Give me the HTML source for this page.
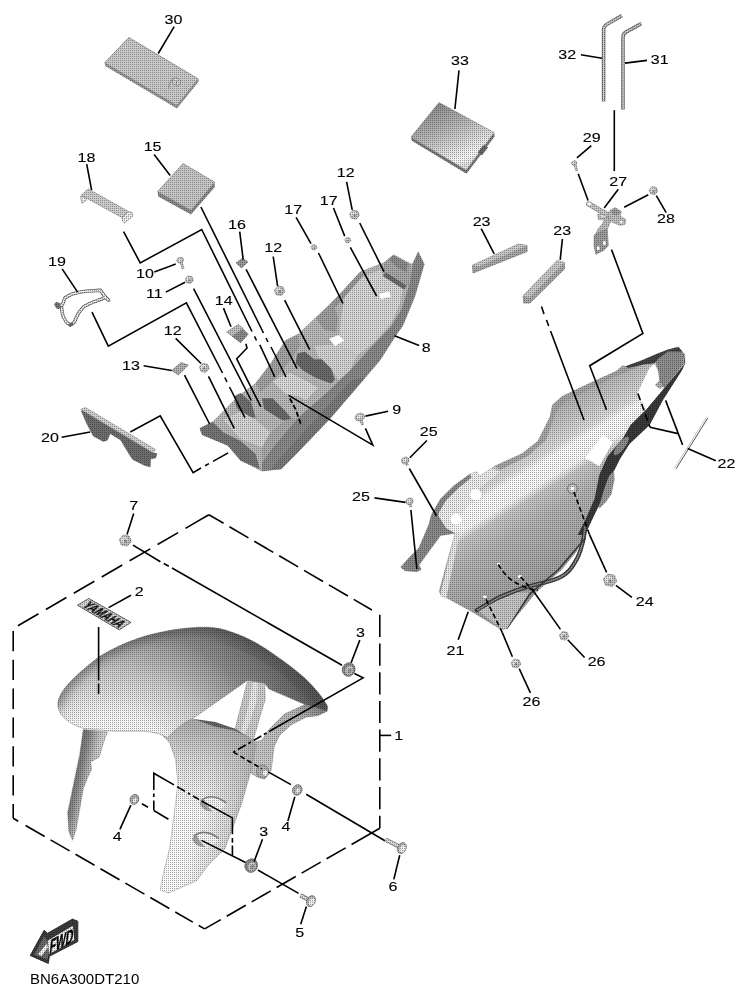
<!DOCTYPE html>
<html><head><meta charset="utf-8"><title>Diagram</title>
<style>
html,body{margin:0;padding:0;background:#fff;}
body{width:748px;height:997px;overflow:hidden;}
svg{display:block;}
text{font-family:"Liberation Sans",sans-serif;fill:#000;}
</style></head><body>
<svg width="748" height="997" viewBox="0 0 748 997">
<defs>

<filter id="dith" filterUnits="userSpaceOnUse" primitiveUnits="userSpaceOnUse" x="0" y="0" width="748" height="997" color-interpolation-filters="sRGB">
  <feFlood flood-color="#000" flood-opacity="0.33" x="0" y="0" width="1" height="1" result="dot"/>
  <feMerge x="0" y="0" width="2" height="2" result="tile"><feMergeNode in="dot"/></feMerge>
  <feTile in="tile" x="0" y="0" width="748" height="997" result="tiles"/>
  <feComposite in="tiles" in2="SourceAlpha" operator="in" result="dots"/>
  <feMerge><feMergeNode in="SourceGraphic"/><feMergeNode in="dots"/></feMerge>
</filter>
<radialGradient id="gFenderTop" gradientUnits="userSpaceOnUse" cx="110" cy="800" r="230">
  <stop offset="0.36" stop-color="#f6f6f6"/><stop offset="0.45" stop-color="#e2e2e2"/><stop offset="0.56" stop-color="#cacaca"/><stop offset="0.62" stop-color="#b8b8b8"/><stop offset="0.70" stop-color="#a2a2a2"/><stop offset="0.76" stop-color="#8e8e8e"/><stop offset="0.85" stop-color="#7c7c7c"/><stop offset="0.92" stop-color="#6e6e6e"/><stop offset="1" stop-color="#5a5a5a"/>
</radialGradient>
<linearGradient id="gLegTop" gradientUnits="userSpaceOnUse" x1="200" y1="725" x2="190" y2="810">
  <stop offset="0" stop-color="#999" stop-opacity="0.75"/><stop offset="0.45" stop-color="#aaa" stop-opacity="0.4"/><stop offset="1" stop-color="#bbb" stop-opacity="0"/>
</linearGradient>
<linearGradient id="gFenderLeg" gradientUnits="userSpaceOnUse" x1="165" y1="790" x2="250" y2="810">
  <stop offset="0" stop-color="#ffffff"/><stop offset="0.45" stop-color="#f6f6f6"/><stop offset="0.8" stop-color="#d8d8d8"/><stop offset="1" stop-color="#b4b4b4"/>
</linearGradient>
<linearGradient id="gCowl" gradientUnits="userSpaceOnUse" x1="513.6" y1="432.6" x2="586.5" y2="552">
  <stop offset="0" stop-color="#b2b2b2"/><stop offset="0.12" stop-color="#c6c6c6"/><stop offset="0.24" stop-color="#dcdcdc"/><stop offset="0.29" stop-color="#fafafa"/><stop offset="0.41" stop-color="#f6f6f6"/><stop offset="0.47" stop-color="#c8c8c8"/><stop offset="0.62" stop-color="#b4b4b4"/><stop offset="1" stop-color="#a0a0a0"/>
</linearGradient>
<linearGradient id="gPad33" gradientUnits="userSpaceOnUse" x1="436" y1="106" x2="462" y2="166">
  <stop offset="0" stop-color="#8e8e8e"/><stop offset="0.4" stop-color="#b8b8b8"/><stop offset="0.7" stop-color="#dcdcdc"/><stop offset="0.9" stop-color="#f6f6f6"/><stop offset="1" stop-color="#e0e0e0"/>
</linearGradient>
<linearGradient id="gArm" gradientUnits="userSpaceOnUse" x1="325" y1="708" x2="262" y2="765">
  <stop offset="0" stop-color="#7e7e7e"/><stop offset="0.3" stop-color="#b4b4b4"/><stop offset="1" stop-color="#c8c8c8"/>
</linearGradient>
<filter id="blur5" x="-20%" y="-20%" width="140%" height="140%"><feGaussianBlur stdDeviation="5"/></filter>
<clipPath id="arcClip"><path d="M58,701.8 C60,690 75,675 100.2,656.1 C125,641 150,633.5 174.7,629.6 C190,627.3 200,627 208.1,627.2 C222,627.5 240,634 256.2,642.9 C275,654 292,667 304.4,677.7 C314,687 323.5,698 327.8,706.8 L327.1,711.2 L305,704.6 L269,689.1 L264.6,683.2 L247.6,680.3 L220.2,699.4 L192.5,718.7 C185,722 176,728 167.5,737.9 C160,733 150,731.5 141.1,731.2 L112.2,731.2 L83.3,728.3 C75,726 66,721 60.5,713.8 C58,709 57.5,705 58,701.8Z"/></clipPath>
<linearGradient id="gRearLeg" gradientUnits="userSpaceOnUse" x1="66" y1="790" x2="100" y2="798">
  <stop offset="0" stop-color="#666"/><stop offset="0.3" stop-color="#8a8a8a"/><stop offset="0.55" stop-color="#c0c0c0"/><stop offset="1" stop-color="#f0f0f0"/>
</linearGradient>
<linearGradient id="gRim" gradientUnits="userSpaceOnUse" x1="262" y1="690" x2="290" y2="655">
  <stop offset="0" stop-color="#555" stop-opacity="0"/><stop offset="1" stop-color="#444" stop-opacity="0.45"/>
</linearGradient>

</defs>
<rect width="748" height="997" fill="#fff"/>
<g filter="url(#dith)">
<path d="M128.8,37.4 L104.7,62.8 L105.2,66.0 L176.9,108.6 L198.8,81.5 L198.3,78.9Z" fill="#9a9a9a" />
<path d="M128.8,37.4 L104.7,62.8 L176.9,105.6 L198.3,78.9Z" fill="#c9c9c9" stroke="#888" stroke-width="0.6" />
<ellipse cx="176.5" cy="81.8" rx="4.2" ry="3.6" fill="#d8d8d8" stroke="#8a8a8a" stroke-width="0.7" transform="rotate(30 176.5 81.8)"/>
<path d="M168.5,88.5 Q168.5,82 174,77.5" fill="none" stroke="#8a8a8a" stroke-width="0.8"/>
<path d="M174.8,80.2 L176.5,82 L178.6,80.6 M176.5,82 L176.3,84.2" fill="none" stroke="#777" stroke-width="0.7"/>
<path d="M157.6,191.5 L158.2,196.5 L191.0,214.5 L214.8,187.0 L214.5,182.1 L191.0,210.2Z" fill="#8a8a8a" />
<path d="M183.0,163.4 L157.6,191.5 L191.0,210.2 L214.5,182.1Z" fill="#c6c6c6" stroke="#888" stroke-width="0.6" />
<path d="M411.0,137.1 L411.8,140.8 L466.5,173.8 L494.6,136.4 L494.1,132.6 L466.2,170.1Z" fill="#7c7c7c" />
<path d="M439.0,102.5 L411.0,137.1 L466.2,170.1 L494.1,132.6Z" fill="url(#gPad33)" stroke="#8a8a8a" stroke-width="0.6" />
<path d="M483.2,145.0 L488.2,147.2 L482.0,155.2 L477.6,152.4Z" fill="#6a6a6a" />
<path d="M81.2,195.3 L88.2,188.9 L128.3,211.4 L122.4,217.8Z" fill="#cdcdcd" stroke="#8a8a8a" stroke-width="0.6" />
<path d="M80.7,196.3 L81.8,203.3 L86.0,200.7 L86.0,197.5Z" fill="#f0f0f0" stroke="#8a8a8a" stroke-width="0.7" />
<path d="M122.4,217.8 L128.3,211.4 L132.0,212.4 L132.6,216.2 L124.5,223.1 L122.4,221.0Z" fill="#f2f2f2" stroke="#8a8a8a" stroke-width="0.7" />
<path d="M124,219.5 L130.5,213.5" stroke="#aaa" stroke-width="0.6" fill="none"/>
<path d="M472.5,265.2 L518.5,244.0 L527.0,245.5 L527.2,251.5 L473.0,273.0 L472.5,265.2Z" fill="#a8a8a8" stroke="#777" stroke-width="0.6" />
<path d="M472.5,265.2 L518.5,244.0 L527.0,245.5 L479.0,266.5Z" fill="#c8c8c8" />
<path d="M557.0,260.6 L564.3,262.5 L564.5,269.0 L530.0,303.1 L523.7,303.1 L523.1,295.8Z" fill="#a8a8a8" stroke="#777" stroke-width="0.6" />
<path d="M557.0,260.6 L564.3,262.5 L529.5,297.5 L523.1,295.8Z" fill="#c8c8c8" />
<path d="M603.6,101.6 L603.6,30 Q603.6,26.2 607,24.3 L621.8,15.6" fill="none" stroke="#777" stroke-width="3.6"/>
<path d="M603.6,101.6 L603.6,30 Q603.6,26.2 607,24.3 L621.8,15.6" fill="none" stroke="#cfcfcf" stroke-width="1.6"/>
<path d="M622.9,109.6 L622.9,37.5 Q622.9,33.8 626.3,31.9 L641.3,23.6" fill="none" stroke="#777" stroke-width="3.6"/>
<path d="M622.9,109.6 L622.9,37.5 Q622.9,33.8 626.3,31.9 L641.3,23.6" fill="none" stroke="#cfcfcf" stroke-width="1.6"/>
<path d="M418.2,252.0 L424.2,264.1 L414.9,296.1 L402.8,325.6 L396.1,334.9 L380.1,360.0 L364.8,378.0 L331.1,417.3 L298.3,451.8 L281.2,468.9 L262.0,471.0 L240.6,460.4 L227.8,445.4 L202.1,434.7 L199.9,428.3 L212.8,421.9 L238.4,396.2 L255.6,383.4 L270.5,364.1 L285.5,340.6 L298.3,334.2 L330.0,304.2 L343.7,290.1 L360.1,272.1 L384.1,262.7 L393.5,254.7 L410.9,264.1 L412.9,263.4Z" fill="#bababa" stroke="#888" stroke-width="0.5" />
<path d="M418.2,252.0 L424.2,264.1 L414.9,296.1 L402.8,325.6 L396.1,334.9 L380.1,360.0 L364.8,378.0 L331.1,417.3 L298.3,451.8 L281.2,468.9 L262.0,471.0 L262.0,462.5 L272.7,447.5 L298.3,417.6 L330.0,389.8 L349.8,370.5 L372.3,346.1 L390.8,326.9 L401.5,309.5 L409.5,284.1 L412.9,263.4Z" fill="#8a8a8a" />
<path d="M364.8,378.0 L331.1,417.3 L298.3,451.8 L281.2,468.9 L270.0,470.0 L290.0,447.0 L322.0,412.0 L352.0,380.0Z" fill="#7c7c7c" />
<path d="M345.0,296.0 L362.0,277.0 L380.0,270.0 L384.0,276.0 L403.0,289.0 L400.0,304.0 L390.8,324.0 L372.3,344.0 L357.3,355.5 L338.6,344.3 L341.0,318.0Z" fill="#d6d6d6" />
<path d="M330.0,304.2 L343.7,290.1 L360.1,272.1 L364.0,275.0 L348.0,293.0 L335.0,308.0Z" fill="#9c9c9c" />
<path d="M316.0,318.0 L330.0,304.2 L335.0,308.0 L338.0,318.0 L336.0,332.0 L324.0,330.0Z" fill="#a0a0a0" />
<path d="M384.1,262.7 L393.5,254.7 L410.9,264.1 L409.5,284.1 L404.2,289.5 L382.8,276.1Z" fill="#a8a8a8" />
<path d="M389.0,259.5 L393.5,255.5 L408.0,263.5 L406.5,272.0 L398.0,268.0Z" fill="#8c8c8c" />
<path d="M382.8,276.1 L386.0,272.5 L406.5,285.5 L404.2,289.5Z" fill="#6e6e6e" />
<path d="M314.3,346.1 L338.6,344.3 L357.3,355.5 L349.8,370.5 L338.6,380.0 L331.1,368.6 L318.0,356.0Z" fill="#d2d2d2" />
<path d="M297.4,353.6 L304.9,351.8 L314.3,359.2 L321.8,359.2 L331.1,368.6 L334.9,379.8 L331.1,383.6 L316.1,378.0 L303.0,370.5 L295.6,363.0Z" fill="#6a6a6a" />
<path d="M272.7,381.2 L289.8,372.7 L306.9,381.2 L318.0,388.0 L306.0,400.0 L298.3,396.2 L285.5,394.0Z" fill="#d8d8d8" />
<path d="M255.6,383.4 L270.5,364.1 L285.5,340.6 L298.3,334.2 L300.0,346.0 L292.0,358.0 L281.0,372.0 L268.0,386.0 L260.0,392.0Z" fill="#a4a4a4" />
<path d="M262.0,398.3 L272.7,398.3 L285.5,411.2 L294.1,421.9 L281.2,419.7 L264.1,409.0Z" fill="#6c6c6c" />
<path d="M234.2,396.2 L240.6,393.0 L251.3,402.6 L255.6,417.6 L244.9,417.6 L236.3,406.9Z" fill="#707070" />
<path d="M223.5,419.7 L240.6,411.2 L255.6,419.7 L270.5,432.6 L262.0,447.5 L240.6,439.0Z" fill="#d4d4d4" />
<path d="M199.9,428.3 L212.8,421.9 L223.5,432.6 L240.6,441.1 L255.6,454.0 L259.8,468.9 L240.6,460.4 L227.8,445.4 L202.1,434.7Z" fill="#767676" />
<path d="M262.0,447.5 L270.5,432.6 L285.0,420.0 L298.3,417.6 L272.7,447.5 L262.0,462.5Z" fill="#aaaaaa" />
<path d="M226.7,332.0 L238.4,324.5 L248.1,334.2 L240.6,342.7Z" fill="#8c8c8c" stroke="#666" stroke-width="0.6" />
<path d="M226.7,332.0 L238.4,324.5 L244.0,328.0 L232.0,336.0Z" fill="#c0c0c0" />
<path d="M171.7,370.5 L181.1,362.5 L188.3,365.1 L178.4,375.0Z" fill="#b0b0b0" stroke="#777" stroke-width="0.6" />
<path d="M236.0,263.0 L242.5,258.0 L248.0,262.0 L241.5,268.0Z" fill="#9a9a9a" stroke="#777" stroke-width="0.6" />
<path d="M81.4,411.0 L85.0,409.5 L152.9,452.8 L156.9,453.5 L155.6,458.0 L150.5,458.8 L150.2,466.8 L144.9,465.5 L132.8,459.5 L128.8,453.5 L120.8,440.1 L115.0,436.5 L110.1,433.4 L107.4,440.1 L103.4,441.4 L93.4,436.1 L87.0,424.0Z" fill="#6e6e6e" stroke="#555" stroke-width="0.5" />
<path d="M80.7,409.4 L85.4,407.4 L155.6,449.5 L152.9,452.8Z" fill="#d0d0d0" stroke="#8a8a8a" stroke-width="0.5" />
<path d="M57.5,304.5 L62,305.5 L65,297.8 L71,294.4 L77.5,292.6 L86,291.1 L100.4,290.3 L104.6,296.3 L108.6,300.3 M104.6,297.8 L91,303 L83.5,306.7 L78.4,313.2 L74.2,322.3 L70.7,325 L66.6,322.5 L62.8,316 L61.6,308" fill="none" stroke="#6a6a6a" stroke-width="3.4" stroke-linejoin="round" stroke-linecap="round"/>
<path d="M57.5,304.5 L62,305.5 L65,297.8 L71,294.4 L77.5,292.6 L86,291.1 L100.4,290.3 L104.6,296.3 L108.6,300.3 M104.6,297.8 L91,303 L83.5,306.7 L78.4,313.2 L74.2,322.3 L70.7,325 L66.6,322.5 L62.8,316 L61.6,308" fill="none" stroke="#efefef" stroke-width="1.7" stroke-linejoin="round" stroke-linecap="round"/>
<ellipse cx="57.5" cy="305.5" rx="2.6" ry="3.6" transform="rotate(-35 57.5 305.5)" fill="#777"/>
<ellipse cx="70.8" cy="324.6" rx="2.6" ry="1.6" transform="rotate(-25 70.8 324.6)" fill="#666"/>
<path d="M676.4,347.2 L649.9,358.0 L625.9,366.5 L622.3,365.8 L616.2,371.3 L589.8,383.3 L562.1,396.5 L552.5,405.0 L550.1,417.0 L538.0,441.1 L522.3,453.6 L495.0,466.1 L491.6,468.4 L479.1,476.4 L476.8,471.8 L470.0,474.1 L454.1,485.5 L440.5,499.1 L431.4,515.0 L429.1,524.1 L418.9,548.0 L408.6,558.2 L400.7,567.3 L405.2,570.7 L416.6,571.8 L421.1,569.5 L418.9,565.0 L440.5,535.5 L455.2,533.2 L439.3,591.1 L440.5,594.5 L470.0,610.5 L501.8,629.8 L506.4,628.6 L535.9,592.3 L561.0,570.0 L576.0,552.0 L583.0,538.0 L589.0,522.0 L599.0,506.0 L611.0,494.0 L613.8,465.1 L625.9,443.5 L645.1,421.8 L664.4,395.3 L684.8,364.1 L684.8,354.4Z" fill="url(#gCowl)" stroke="#888" stroke-width="0.5" />
<path d="M552.5,405.0 L562.1,396.5 L589.8,383.3 L616.2,371.3 L625.9,366.5 L649.9,358.0 L640.0,366.0 L612.0,378.0 L588.0,390.0 L566.0,401.0 L556.0,412.0 L550.1,417.0Z" fill="#a6a6a6" />
<path d="M538.0,441.1 L550.1,417.0 L556.0,412.0 L546.0,440.0 L528.0,456.0 L500.0,470.0 L495.0,466.1 L522.3,453.6Z" fill="#a8a8a8" />
<path d="M440.5,499.1 L454.1,485.5 L470.0,474.1 L476.8,471.8 L479.1,476.4 L491.6,468.4 L500.0,472.0 L480.0,488.0 L468.0,504.0 L456.0,526.0 L446.0,530.0 L436.0,512.0Z" fill="#ececec" />
<path d="M440.0,596.0 L455.2,533.2 L460.0,531.5 L446.0,599.0Z" fill="#e6e6e6" />
<path d="M429.1,524.1 L431.4,515.0 L436.0,512.0 L446.0,528.0 L455.2,533.2 L440.5,535.5 L418.9,565.0 L421.1,569.5 L416.6,571.8 L405.2,570.7 L400.7,567.3 L408.6,558.2 L418.9,548.0Z" fill="#8a8a8a" />
<path d="M429.1,524.1 L431.4,515.0 L440.5,499.1 L454.1,485.5 L470.0,474.1 L471.5,477.5 L458.0,488.5 L446.0,500.5 L439.5,511.5 L437.0,519.0Z" fill="#8c8c8c" />
<circle cx="572.5" cy="488.7" r="5" fill="#c8c8c8" stroke="#666" stroke-width="0.8"/>
<path d="M613.8,465.1 L614.5,480.0 L611.4,494.0 L606.0,502.0 L599.4,508.4 L597.0,503.0 L601.0,488.0 L603.0,474.0 L606.5,462.0Z" fill="#9a9a9a" />
<path d="M678.6,347.0 L683.4,353.0 L685.2,362.7 L682.2,369.9 L663.0,400.0 L649.7,425.0 L629.5,444.0 L620.0,459.0 L614.5,470.0 L609.0,476.0 L604.5,488.0 L600.0,503.0 L592.0,520.0 L585.0,534.9 L577.7,534.9 L585.0,520.5 L594.6,498.8 L599.4,474.7 L607.7,456.2 L622.8,438.6 L630.5,425.0 L646.1,409.6 L664.2,388.0 L684.6,363.9 L682.6,351.8Z" fill="#3a3a3a" />
<path d="M655.7,361.5 L667.8,350.6 L682.2,351.8 L684.0,363.5 L664.2,387.9 L659.3,380.7 L658.1,371.1Z" fill="#8e8e8e" />
<path d="M625.6,366.3 L640.1,360.9 L655.7,354.3 L667.8,349.4 L678.6,347.0 L682.6,351.8 L667.8,351.4 L658.1,359.1 L654.5,363.3 L643.7,364.5 L628.0,368.1Z" fill="#444" />
<ellipse cx="621.3" cy="446" rx="3.6" ry="11.5" transform="rotate(38 621.3 446)" fill="#8c8c8c"/>
<path d="M654.8,385.0 L660.0,381.2 L664.0,385.0 L659.0,388.5Z" fill="#b0b0b0" stroke="#666" stroke-width="0.6" />
<path d="M585,526 C584.5,534 583.5,540 582,545 C580,553 577.5,558.5 574.5,563 C571.5,568.5 567.5,573 562.5,576 C555,580.5 546,582.5 537,584.3 C530,586 523,588 516.9,590.3 C510,593 503,595.5 496.8,598.6 L476.8,610.3" fill="none" stroke="#3a3a3a" stroke-width="4.2" stroke-linejoin="round" stroke-linecap="round"/>
<path d="M585,526 C584.5,534 583.5,540 582,545 C580,553 577.5,558.5 574.5,563 C571.5,568.5 567.5,573 562.5,576 C555,580.5 546,582.5 537,584.3 C530,586 523,588 516.9,590.3 C510,593 503,595.5 496.8,598.6 L476.8,610.3" fill="none" stroke="#8c8c8c" stroke-width="1.5" stroke-linejoin="round"/>
<path d="M585.5,538 L558,570 L530.3,593.6 L506.9,628.7" fill="none" stroke="#3c3c3c" stroke-width="1.5"/>
<path d="M479.0,611.0 L497.5,600.5 L517.5,592.3 L529.0,592.5 L506.9,628.7 L501.8,629.8Z" fill="#c4c4c4" />
<path d="M594.1,235.2 L600.0,231.0 L607.2,228.5 L608.2,245.7 L603.7,250.3 L595.9,254.3 L594.1,246.0Z" fill="#9c9c9c" stroke="#777" stroke-width="0.6" />
<path d="M604.5,217.0 L612.0,218.5 L609.5,224.0 L607.2,229.1 L600.0,231.8 L595.5,234.5 L598.0,229.0 L603.0,223.0Z" fill="#bcbcbc" stroke="#888" stroke-width="0.5" />
<path d="M588.9,204 L600,210.5 L611,216.5" fill="none" stroke="#8a8a8a" stroke-width="5.4" stroke-linecap="round"/>
<path d="M588.9,204 L600,210.5 L611,216.5" fill="none" stroke="#c6c6c6" stroke-width="4.2" stroke-linecap="round"/>
<path d="M597.5,214.0 L603.0,214.5 L603.5,219.5 L598.5,219.8Z" fill="#c0c0c0" stroke="#888" stroke-width="0.5" />
<path d="M609.8,210.5 L615.0,207.5 L621.5,211.5 L620.0,216.0 L625.8,219.5 L625.4,224.0 L620.5,225.5 L614.0,223.0 L609.0,220.0 L607.5,214.5Z" fill="#bebebe" stroke="#888" stroke-width="0.5" />
<path d="M611.0,211.0 L615.5,208.5 L620.5,212.0 L617.0,215.5 L612.5,214.5Z" fill="#9a9a9a" />
<path d="M83.3,729.5 L79.7,754.7 L73.7,783.6 L67.7,812.5 L68.9,831.7 L72.5,840.2 L76.1,829.3 L83.3,788.4 L88.1,776.4 L91.7,769.2 L90.5,762 L99,757.2 L105,737.9 L107.4,731.9Z" fill="url(#gRearLeg)" stroke="#888" stroke-width="0.5" />
<path d="M327.1,711.2 L318.2,715.6 L306.5,717.1 L291.8,724.4 L280.0,734.7 L274.1,746.5 L272.6,758.2 L271.2,770.0 L265.3,778.8 L257.9,777.4 L250.6,772.9 L247.6,765.6 L250.0,748.0 L252.8,742.0 L261.6,740.6 L269.7,728.8 L284.4,714.1 L305.0,704.6Z" fill="url(#gArm)" stroke="#8a8a8a" stroke-width="0.5" />
<path d="M247.6,680.3 L264.6,683.2 L265.3,699.4 L259.4,718.5 L252.8,742.0 L246.0,742.0 L235.1,728.8Z" fill="#cccccc" stroke="#999" stroke-width="0.5" />
<path d="M253.0,682.0 L258.0,682.5 L257.0,700.0 L250.0,722.0 L244.0,737.0 L240.0,733.0 L247.0,712.0Z" fill="#e6e6e6" />
<ellipse cx="262.6" cy="771.6" rx="6" ry="6.6" fill="#b4b4b4" stroke="#777" stroke-width="0.7"/>
<ellipse cx="265.2" cy="773" rx="2.7" ry="3.2" fill="#fff" stroke="#777" stroke-width="0.5"/>
<path d="M192.5,718.7 L215.3,722.0 L235.1,728.8 L253.5,740.6 L244.7,737.5 L226.0,732.5 L208.0,727.5Z" fill="#666" />
<path d="M160,733.1 L169.6,742.7 L175.6,759.6 L178,783.6 L174.4,812.5 L169.6,848.6 L163,875 L160.3,890 L168.4,893 L196.4,880.8 L208.5,864.7 L225,848.6 L232.2,829.3 L241.8,802.9 L251.4,769.2 L256.2,745.1 L250,738 L234.6,730.7 L215.3,727.1 L192.5,718.7 L180,722Z" fill="url(#gFenderLeg)" stroke="#999" stroke-width="0.5" />
<path d="M160,733.1 L169.6,742.7 L175.6,759.6 L178,783.6 L174.4,812.5 L169.6,848.6 L163,875 L160.3,890 L168.4,893 L196.4,880.8 L208.5,864.7 L225,848.6 L232.2,829.3 L241.8,802.9 L251.4,769.2 L256.2,745.1 L250,738 L234.6,730.7 L215.3,727.1 L192.5,718.7 L180,722Z" fill="url(#gLegTop)" />
<path d="M58,701.8 C60,690 75,675 100.2,656.1 C125,641 150,633.5 174.7,629.6 C190,627.3 200,627 208.1,627.2 C222,627.5 240,634 256.2,642.9 C275,654 292,667 304.4,677.7 C314,687 323.5,698 327.8,706.8 L327.1,711.2 L305,704.6 L269,689.1 L264.6,683.2 L247.6,680.3 L220.2,699.4 L192.5,718.7 C185,722 176,728 167.5,737.9 C160,733 150,731.5 141.1,731.2 L112.2,731.2 L83.3,728.3 C75,726 66,721 60.5,713.8 C58,709 57.5,705 58,701.8Z" fill="url(#gFenderTop)" stroke="#888" stroke-width="0.5" />
<path d="M174.7,629.6 C190,627.3 200,627 208.1,627.2 C222,627.5 240,634 256.2,642.9 C275,654 292,667 304.4,677.7 C314,687 323.5,698 327.8,706.8 L327.1,711.2 L316.4,708 C305,694 290,680 270,666 C245,650 215,640 174.7,629.6Z" fill="url(#gRim)" />
<g clip-path="url(#arcClip)"><path d="M52,708 C56,690 72,673 98,654 C124,638 150,630.5 174.7,626.6 C190,624.3 200,624 210,624.2 C230,626 250,634 270,646" fill="none" stroke="#4a4a4a" stroke-opacity="0.55" stroke-width="16" filter="url(#blur5)"/></g>
<g transform="translate(0,0)">
<path d="M198.7,802.4 Q211,791.5 226.8,803.4 Q214,817 203.5,811.5 Q198,807.5 198.7,802.4Z" fill="#f4f4f4"/>
<path d="M199.5,803.5 Q203,812 213,811.5 Q206,806 204.5,799.5 Q200.5,800.5 199.5,803.5Z" fill="#a8a8a8"/>
<path d="M201,800.5 Q212,792 226.3,803" fill="none" stroke="#8a8a8a" stroke-width="1.6"/>
</g>
<g transform="translate(-7.4,35.6)">
<path d="M198.7,802.4 Q211,791.5 226.8,803.4 Q214,817 203.5,811.5 Q198,807.5 198.7,802.4Z" fill="#f4f4f4"/>
<path d="M199.5,803.5 Q203,812 213,811.5 Q206,806 204.5,799.5 Q200.5,800.5 199.5,803.5Z" fill="#a8a8a8"/>
<path d="M201,800.5 Q212,792 226.3,803" fill="none" stroke="#8a8a8a" stroke-width="1.6"/>
</g>
<path d="M131.4,541.5 L127.4,546.0 L121.3,545.0 L119.2,539.5 L123.2,535.0 L129.3,536.0Z" fill="#bcbcbc" stroke="#8a8a8a" stroke-width="0.6" />
<ellipse cx="124.1" cy="539.6" rx="3.4" ry="3.1" fill="#dedede"/>
<ellipse cx="125.3" cy="541.1" rx="1.4" ry="1.6" fill="#8a8a8a"/>
<ellipse cx="348.7" cy="669.5" rx="6.256" ry="6.8" fill="#8e8e8e" stroke="#666" stroke-width="0.7" transform="rotate(25 348.7 669.5)"/>
<ellipse cx="349.59999999999997" cy="670.0" rx="4.216" ry="5.032" fill="#c8c8c8" stroke="#777" stroke-width="0.5" transform="rotate(25 348.7 669.5)"/>
<ellipse cx="350.2" cy="670.4" rx="2.04" ry="2.856" fill="#9a9a9a" transform="rotate(25 348.7 669.5)"/>
<ellipse cx="251.2" cy="865.6" rx="6.256" ry="6.8" fill="#8e8e8e" stroke="#666" stroke-width="0.7" transform="rotate(25 251.2 865.6)"/>
<ellipse cx="252.1" cy="866.1" rx="4.216" ry="5.032" fill="#c8c8c8" stroke="#777" stroke-width="0.5" transform="rotate(25 251.2 865.6)"/>
<ellipse cx="252.7" cy="866.5" rx="2.04" ry="2.856" fill="#9a9a9a" transform="rotate(25 251.2 865.6)"/>
<ellipse cx="297.3" cy="790" rx="4.59" ry="5.4" fill="#b0b0b0" stroke="#6e6e6e" stroke-width="0.7" transform="rotate(25 297.3 790)"/>
<ellipse cx="298.1" cy="790.5" rx="2.43" ry="3.3480000000000003" fill="#e8e8e8" stroke="#8a8a8a" stroke-width="0.5" transform="rotate(25 297.3 790)"/>
<ellipse cx="134.4" cy="799.4" rx="4.25" ry="5" fill="#b0b0b0" stroke="#6e6e6e" stroke-width="0.7" transform="rotate(25 134.4 799.4)"/>
<ellipse cx="135.20000000000002" cy="799.9" rx="2.25" ry="3.1" fill="#e8e8e8" stroke="#8a8a8a" stroke-width="0.5" transform="rotate(25 134.4 799.4)"/>
<path d="M385.6,839.6 L398.6,846.2" stroke="#8c8c8c" stroke-width="4.4" fill="none"/>
<path d="M385.6,839.6 L398.6,846.2" stroke="#dcdcdc" stroke-width="2.4200000000000004" fill="none"/>
<ellipse cx="401.8" cy="848.1" rx="4.16" ry="5.720000000000001" fill="#b4b4b4" stroke="#707070" stroke-width="0.7" transform="rotate(25 401.8 848.1)"/>
<ellipse cx="402.8" cy="848.4" rx="2.6" ry="3.9000000000000004" fill="#eeeeee" transform="rotate(25 401.8 848.1)"/>
<path d="M300.3,895.3 L307.8,899.2" stroke="#8c8c8c" stroke-width="4.4" fill="none"/>
<path d="M300.3,895.3 L307.8,899.2" stroke="#dcdcdc" stroke-width="2.4200000000000004" fill="none"/>
<ellipse cx="311.0" cy="901.1" rx="4.16" ry="5.720000000000001" fill="#b4b4b4" stroke="#707070" stroke-width="0.7" transform="rotate(25 311.0 901.1)"/>
<ellipse cx="312.0" cy="901.4" rx="2.6" ry="3.9000000000000004" fill="#eeeeee" transform="rotate(25 311.0 901.1)"/>
<path d="M180.79999999999998,261.2 L183.2,268.8" stroke="#9a9a9a" stroke-width="2.6" fill="none"/>
<path d="M180.79999999999998,261.2 L183.2,268.8" stroke="#dcdcdc" stroke-width="1" fill="none"/>
<ellipse cx="180.2" cy="260.2" rx="3.4" ry="2.8" fill="#c2c2c2" stroke="#8a8a8a" stroke-width="0.6" transform="rotate(-20 180.2 260.2)"/>
<ellipse cx="179.7" cy="259.7" rx="1.7" ry="1.4" fill="#e2e2e2" transform="rotate(-20 180.2 260.2)"/>
<path d="M193.4,280.4 L190.7,283.4 L186.6,282.8 L185.2,279.0 L187.9,276.0 L192.0,276.6Z" fill="#bcbcbc" stroke="#8a8a8a" stroke-width="0.6" />
<ellipse cx="188.5" cy="279.1" rx="2.3" ry="2.1" fill="#dedede"/>
<ellipse cx="189.3" cy="280.1" rx="0.9" ry="1.1" fill="#8a8a8a"/>
<path d="M209.2,368.6 L206.0,372.3 L201.1,371.4 L199.4,367.0 L202.6,363.3 L207.5,364.2Z" fill="#bcbcbc" stroke="#8a8a8a" stroke-width="0.6" />
<ellipse cx="203.3" cy="367.1" rx="2.8" ry="2.5" fill="#dedede"/>
<ellipse cx="204.3" cy="368.3" rx="1.1" ry="1.2" fill="#8a8a8a"/>
<path d="M284.8,291.8 L281.4,295.6 L276.2,294.8 L274.4,290.0 L277.8,286.2 L283.0,287.0Z" fill="#bcbcbc" stroke="#8a8a8a" stroke-width="0.6" />
<ellipse cx="278.5" cy="290.1" rx="2.9" ry="2.6" fill="#dedede"/>
<ellipse cx="279.6" cy="291.4" rx="1.2" ry="1.3" fill="#8a8a8a"/>
<path d="M359.4,215.5 L356.2,219.2 L351.3,218.3 L349.6,213.9 L352.8,210.2 L357.7,211.1Z" fill="#bcbcbc" stroke="#8a8a8a" stroke-width="0.6" />
<ellipse cx="353.5" cy="213.9" rx="2.8" ry="2.5" fill="#dedede"/>
<ellipse cx="354.5" cy="215.2" rx="1.1" ry="1.2" fill="#8a8a8a"/>
<path d="M316.9,247.8 L314.9,250.0 L312.0,249.5 L310.9,246.8 L312.9,244.6 L315.8,245.1Z" fill="#bcbcbc" stroke="#8a8a8a" stroke-width="0.6" />
<ellipse cx="313.3" cy="246.9" rx="1.7" ry="1.5" fill="#dedede"/>
<ellipse cx="313.9" cy="247.6" rx="0.7" ry="0.8" fill="#8a8a8a"/>
<path d="M350.8,240.6 L348.8,242.8 L345.9,242.3 L344.8,239.6 L346.8,237.4 L349.7,237.9Z" fill="#bcbcbc" stroke="#8a8a8a" stroke-width="0.6" />
<ellipse cx="347.2" cy="239.7" rx="1.7" ry="1.5" fill="#dedede"/>
<ellipse cx="347.8" cy="240.4" rx="0.7" ry="0.8" fill="#8a8a8a"/>
<path d="M360.40000000000003,418.1 L362.6,425.1" stroke="#9a9a9a" stroke-width="2.6" fill="none"/>
<path d="M360.40000000000003,418.1 L362.6,425.1" stroke="#dcdcdc" stroke-width="1" fill="none"/>
<ellipse cx="359.8" cy="417.1" rx="4.8" ry="3.8" fill="#c2c2c2" stroke="#8a8a8a" stroke-width="0.6" transform="rotate(-20 359.8 417.1)"/>
<ellipse cx="359.3" cy="416.6" rx="2.4" ry="1.9" fill="#e2e2e2" transform="rotate(-20 359.8 417.1)"/>
<path d="M405.8,461.5 L407.4,465.5" stroke="#9a9a9a" stroke-width="2.6" fill="none"/>
<path d="M405.8,461.5 L407.4,465.5" stroke="#dcdcdc" stroke-width="1" fill="none"/>
<ellipse cx="405.2" cy="460.5" rx="3.9" ry="3.2" fill="#c2c2c2" stroke="#8a8a8a" stroke-width="0.6" transform="rotate(-20 405.2 460.5)"/>
<ellipse cx="404.7" cy="460.0" rx="1.95" ry="1.6" fill="#e2e2e2" transform="rotate(-20 405.2 460.5)"/>
<path d="M410.1,502.3 L410.9,507.3" stroke="#9a9a9a" stroke-width="2.6" fill="none"/>
<path d="M410.1,502.3 L410.9,507.3" stroke="#dcdcdc" stroke-width="1" fill="none"/>
<ellipse cx="409.5" cy="501.3" rx="3.7" ry="3.1" fill="#c2c2c2" stroke="#8a8a8a" stroke-width="0.6" transform="rotate(-20 409.5 501.3)"/>
<ellipse cx="409.0" cy="500.8" rx="1.85" ry="1.55" fill="#e2e2e2" transform="rotate(-20 409.5 501.3)"/>
<path d="M616.8,581.3 L612.4,586.4 L605.6,585.2 L603.2,579.1 L607.6,574.0 L614.4,575.2Z" fill="#bcbcbc" stroke="#8a8a8a" stroke-width="0.6" />
<ellipse cx="608.6" cy="579.2" rx="3.8" ry="3.5" fill="#dedede"/>
<ellipse cx="610.0" cy="580.9" rx="1.5" ry="1.7" fill="#8a8a8a"/>
<path d="M568.7,636.6 L565.6,640.1 L560.9,639.3 L559.3,635.0 L562.4,631.5 L567.1,632.3Z" fill="#bcbcbc" stroke="#8a8a8a" stroke-width="0.6" />
<ellipse cx="563.0" cy="635.1" rx="2.6" ry="2.4" fill="#dedede"/>
<ellipse cx="564.0" cy="636.3" rx="1.1" ry="1.2" fill="#8a8a8a"/>
<path d="M520.8,664.3 L517.6,668.0 L512.7,667.1 L511.0,662.7 L514.2,659.0 L519.1,659.9Z" fill="#bcbcbc" stroke="#8a8a8a" stroke-width="0.6" />
<ellipse cx="514.9" cy="662.8" rx="2.8" ry="2.5" fill="#dedede"/>
<ellipse cx="515.9" cy="664.0" rx="1.1" ry="1.2" fill="#8a8a8a"/>
<path d="M657.7,191.3 L654.9,194.5 L650.6,193.8 L649.1,189.9 L651.9,186.7 L656.2,187.4Z" fill="#bcbcbc" stroke="#8a8a8a" stroke-width="0.6" />
<ellipse cx="652.5" cy="189.9" rx="2.4" ry="2.2" fill="#dedede"/>
<ellipse cx="653.4" cy="191.0" rx="1.0" ry="1.1" fill="#8a8a8a"/>
<path d="M574.8000000000001,164.1 L577.0,171.1" stroke="#9a9a9a" stroke-width="2.6" fill="none"/>
<path d="M574.8000000000001,164.1 L577.0,171.1" stroke="#dcdcdc" stroke-width="1" fill="none"/>
<ellipse cx="574.2" cy="163.1" rx="2.6" ry="2.2" fill="#c2c2c2" stroke="#8a8a8a" stroke-width="0.6" transform="rotate(-20 574.2 163.1)"/>
<ellipse cx="573.7" cy="162.6" rx="1.3" ry="1.1" fill="#e2e2e2" transform="rotate(-20 574.2 163.1)"/>
<path d="M77.5,605.3 L88.7,598.4 L131.0,622.4 L119.2,629.9Z" fill="#d4d4d4" stroke="#444" stroke-width="0.8" />
<path d="M30.2,955.5 L44.1,930.3 L47.6,933.3 L72.4,919.1 L77.8,921.2 L77.8,941.6 L49.4,956.3 L48.3,963.5Z" fill="#3c3c3c" stroke="#222" stroke-width="0.8" />
<path d="M34.0,954.8 L44.3,936.0 L47.8,942.0 L48.6,953.9 L47.4,959.5Z" fill="#6a6a6a" />
<path d="M38.0,954.2 L46.8,943.5 L47.8,947.5 L41.5,956.0Z" fill="#f4f4f4" />
<path d="M47.8,940.5 L72.9,925.8 L74.2,940.0 L48.9,954.2Z" fill="#ececec" />
</g>
<text transform="matrix(0.862,0.508,-0.852,0.525,81.6,606.2)" font-size="13.8" font-weight="bold" fill="#111" stroke="#111" stroke-width="0.35" textLength="43" lengthAdjust="spacingAndGlyphs">YAMAHA</text>
<text transform="matrix(0.891,-0.454,-0.12,0.99,49.0,954.0)" font-size="20.5" font-weight="bold" fill="#000" stroke="#000" stroke-width="0.4" textLength="26.5" lengthAdjust="spacingAndGlyphs">FWD</text>
<ellipse cx="498.4" cy="563.9" rx="1.6" ry="1.2" fill="#fff"/>
<ellipse cx="520" cy="576.6" rx="2.2" ry="1.5" fill="#fff"/>
<ellipse cx="484.8" cy="596.8" rx="2.4" ry="1.8" fill="#f4f4f4" stroke="#777" stroke-width="0.5"/>
<ellipse cx="589.3" cy="203.9" rx="1.7" ry="1.3" fill="#fff"/>
<circle cx="602" cy="216" r="0.9" fill="#fff"/>
<circle cx="621.3" cy="222" r="1.2" fill="#fff"/>
<ellipse cx="604.4" cy="243" rx="1.3" ry="2.2" fill="#fff"/>
<ellipse cx="598.2" cy="248.2" rx="1.3" ry="2" fill="#fff"/>
<path d="M329.2,338.7 L338.6,334.9 L344.2,340.5 L334.9,346.1Z" fill="#fff" />
<path d="M378.8,294.0 L389.0,291.5 L391.0,296.5 L381.0,299.0Z" fill="#fff" />
<path d="M637.7,392.8 L649.7,367.5 L654.5,363.9 L658.1,371.1 L659.3,380.7 L655.0,385.0 L659.0,388.5 L663.0,389.2 L646.1,409.6Z" fill="#fff" />
<path d="M585.0,457.9 L603.0,435.0 L612.6,442.3 L599.4,466.3Z" fill="#fff" />
<circle cx="475.7" cy="494.5" r="5.5" fill="#fff"/>
<circle cx="455.9" cy="519.1" r="5.5" fill="#fff"/>
<circle cx="572.5" cy="488.7" r="1.8" fill="#fff"/>
<path d="M208.9,514.7 L17.6,625.9" fill="none" stroke="#000" stroke-width="1.6" stroke-dasharray="27.1 8.5 23.8 8.5 23.8 8.5 23.8 8.5 23.8 8.5 23.8 8.5 23.8 99"/>
<path d="M208.9,514.7 L373.9,611.2" fill="none" stroke="#000" stroke-width="1.6" stroke-dasharray="17 6.8 22 6.8 22 6.8 22 6.8 22 6.8 22 6.8 21 99"/>
<path d="M379.8,614.8 L379.8,828.2" fill="none" stroke="#000" stroke-width="1.6" stroke-dasharray="22.2 6.5"/>
<path d="M204.6,928.9 L379.8,828.2" fill="none" stroke="#000" stroke-width="1.6" stroke-dasharray="18.7 6.8 22 6.8 22 6.8 22 6.8 22 6.8 22 6.8 40"/>
<path d="M204.6,928.9 L13.2,818.3" fill="none" stroke="#000" stroke-width="1.6" stroke-dasharray="6.8 6.8 20.3 6.8 22 6.8 22 6.8 22 6.8 22 6.8 22 6.8 22 8.5 8"/>
<path d="M13.2,630.9 L13.2,818.3" fill="none" stroke="#000" stroke-width="1.6" stroke-dasharray="20.3 8.55"/>
<path d="M379.8,735.4 L391.2,735.4" fill="none" stroke="#000" stroke-width="1.6"/>
<path d="M174.2,26.7 L158.2,53.5" fill="none" stroke="#000" stroke-width="1.6"/>
<path d="M86.7,164.2 L91.6,190.2" fill="none" stroke="#000" stroke-width="1.6"/>
<path d="M154.1,154.6 L170.2,175.5" fill="none" stroke="#000" stroke-width="1.6"/>
<path d="M239.7,231.6 L243.2,259.7" fill="none" stroke="#000" stroke-width="1.6"/>
<path d="M154.3,272.1 L175.7,264.1" fill="none" stroke="#000" stroke-width="1.6"/>
<path d="M165.8,292.1 L185.1,282.2" fill="none" stroke="#000" stroke-width="1.6"/>
<path d="M175.7,338.4 L201.1,363.5" fill="none" stroke="#000" stroke-width="1.6"/>
<path d="M143.6,365.7 L171.7,370.5" fill="none" stroke="#000" stroke-width="1.6"/>
<path d="M61.6,437.3 L90.2,432.0" fill="none" stroke="#000" stroke-width="1.6"/>
<path d="M62.1,268.9 L77.6,292.1" fill="none" stroke="#000" stroke-width="1.6"/>
<path d="M223.5,308.1 L231.0,326.7" fill="none" stroke="#000" stroke-width="1.6"/>
<path d="M273.2,256.5 L277.6,286.2" fill="none" stroke="#000" stroke-width="1.6"/>
<path d="M296.1,217.4 L311.0,243.6" fill="none" stroke="#000" stroke-width="1.6"/>
<path d="M333.5,208.0 L344.7,236.1" fill="none" stroke="#000" stroke-width="1.6"/>
<path d="M346.6,181.8 L352.2,209.9" fill="none" stroke="#000" stroke-width="1.6"/>
<path d="M394.5,335.7 L419.1,345.5" fill="none" stroke="#000" stroke-width="1.6"/>
<path d="M365.4,416.1 L388.1,411.3" fill="none" stroke="#000" stroke-width="1.6"/>
<path d="M200.9,207.0 L263.5,333.0" fill="none" stroke="#000" stroke-width="1.6"/>
<path d="M266.0,338.0 L268.0,342.0" fill="none" stroke="#000" stroke-width="1.6"/>
<path d="M271.0,347.0 L286.0,377.0" fill="none" stroke="#000" stroke-width="1.6"/>
<path d="M123.6,231.6 L140.2,262.9 L201.7,229.5 L252.0,331.5" fill="none" stroke="#000" stroke-width="1.6"/>
<path d="M254.5,336.3 L256.5,340.5" fill="none" stroke="#000" stroke-width="1.6"/>
<path d="M259.8,344.9 L274.8,377.0" fill="none" stroke="#000" stroke-width="1.6"/>
<path d="M92.0,312.2 L108.3,346.1 L186.4,302.8 L222.5,373.0" fill="none" stroke="#000" stroke-width="1.6"/>
<path d="M224.8,377.5 L227.0,382.0" fill="none" stroke="#000" stroke-width="1.6"/>
<path d="M229.5,387.0 L244.9,417.6" fill="none" stroke="#000" stroke-width="1.6"/>
<path d="M193.6,288.7 L251.3,400.5" fill="none" stroke="#000" stroke-width="1.6"/>
<path d="M246.1,269.4 L297.0,368.7" fill="none" stroke="#000" stroke-width="1.6"/>
<path d="M284.6,300.2 L309.7,349.6" fill="none" stroke="#000" stroke-width="1.6"/>
<path d="M318.5,253.0 L342.9,303.5" fill="none" stroke="#000" stroke-width="1.6"/>
<path d="M350.3,247.3 L376.6,296.0" fill="none" stroke="#000" stroke-width="1.6"/>
<path d="M359.7,223.0 L384.0,271.7" fill="none" stroke="#000" stroke-width="1.6"/>
<path d="M245.9,343.8 L247.0,348.1 L236.7,358.8 L260.9,406.9" fill="none" stroke="#000" stroke-width="1.6"/>
<path d="M208.5,376.3 L234.2,428.3" fill="none" stroke="#000" stroke-width="1.6"/>
<path d="M184.5,375.2 L209.6,424.0" fill="none" stroke="#000" stroke-width="1.6"/>
<path d="M130.3,432.0 L160.2,415.9 L193.1,472.6 L201.0,468.0" fill="none" stroke="#000" stroke-width="1.6"/>
<path d="M205.0,465.8 L209.0,463.6" fill="none" stroke="#000" stroke-width="1.6"/>
<path d="M213.0,461.4 L228.2,452.9" fill="none" stroke="#000" stroke-width="1.6"/>
<path d="M288.6,395.4 L372.8,445.1 L365.4,428.4" fill="none" stroke="#000" stroke-width="1.6"/>
<path d="M289.8,398.5 L295.5,409.0 L301.0,424.5" fill="none" stroke="#000" stroke-width="1.8" stroke-dasharray="5 2.5"/>
<path d="M459.0,70.3 L454.9,109.0" fill="none" stroke="#000" stroke-width="1.6"/>
<path d="M580.9,54.8 L602.0,58.3" fill="none" stroke="#000" stroke-width="1.6"/>
<path d="M625.0,63.1 L647.0,60.4" fill="none" stroke="#000" stroke-width="1.6"/>
<path d="M614.3,110.2 L614.3,171.1" fill="none" stroke="#000" stroke-width="1.6"/>
<path d="M618.3,189.3 L604.2,208.0" fill="none" stroke="#000" stroke-width="1.6"/>
<path d="M591.3,145.7 L576.9,157.8" fill="none" stroke="#000" stroke-width="1.6"/>
<path d="M578.2,173.8 L588.1,200.5" fill="none" stroke="#000" stroke-width="1.6"/>
<path d="M656.3,195.7 L666.2,212.6" fill="none" stroke="#000" stroke-width="1.6"/>
<path d="M648.3,194.7 L624.2,207.2" fill="none" stroke="#000" stroke-width="1.6"/>
<path d="M481.2,228.6 L494.2,253.8" fill="none" stroke="#000" stroke-width="1.6"/>
<path d="M562.4,238.9 L560.2,259.8" fill="none" stroke="#000" stroke-width="1.6"/>
<path d="M541.5,306.5 L544.0,314.0" fill="none" stroke="#000" stroke-width="1.6"/>
<path d="M546.5,320.0 L548.7,326.0" fill="none" stroke="#000" stroke-width="1.6"/>
<path d="M550.5,331.0 L584.0,420.0" fill="none" stroke="#000" stroke-width="1.6"/>
<path d="M611.5,249.6 L642.9,333.5 L589.7,365.7 L606.5,409.7" fill="none" stroke="#000" stroke-width="1.6"/>
<path d="M707.8,418.0 L676.1,468.8" fill="none" stroke="#555" stroke-width="1.0"/>
<path d="M706.3,417.4 L674.6,468.0" fill="none" stroke="#999" stroke-width="0.6"/>
<path d="M687.7,448.6 L715.8,460.7" fill="none" stroke="#000" stroke-width="1.6"/>
<path d="M665.6,400.4 L682.6,444.9" fill="none" stroke="#000" stroke-width="1.6"/>
<path d="M650.0,427.3 L678.1,433.6" fill="none" stroke="#000" stroke-width="1.6"/>
<path d="M637.9,393.4 L650.0,427.3" fill="none" stroke="#000" stroke-width="1.6" stroke-dasharray="7 4"/>
<path d="M426.9,440.5 L409.8,457.8" fill="none" stroke="#000" stroke-width="1.6"/>
<path d="M409.3,468.5 L436.6,516.0" fill="none" stroke="#000" stroke-width="1.6"/>
<path d="M374.5,497.9 L405.5,502.4" fill="none" stroke="#000" stroke-width="1.6"/>
<path d="M410.9,510.0 L416.9,569.2" fill="none" stroke="#000" stroke-width="1.6"/>
<path d="M631.9,597.3 L615.9,585.3" fill="none" stroke="#000" stroke-width="1.6"/>
<path d="M606.6,572.4 L589.4,534.3" fill="none" stroke="#000" stroke-width="1.6"/>
<path d="M589.4,534.3 L573.3,490.2" fill="none" stroke="#000" stroke-width="1.6" stroke-dasharray="5 3"/>
<path d="M584.6,657.5 L567.7,639.8" fill="none" stroke="#000" stroke-width="1.6"/>
<path d="M560.5,629.4 L534.4,592.5" fill="none" stroke="#000" stroke-width="1.6"/>
<path d="M534.4,592.5 L520.4,576.4" fill="none" stroke="#000" stroke-width="1.6" stroke-dasharray="5 3"/>
<path d="M530.4,692.8 L519.2,668.7" fill="none" stroke="#000" stroke-width="1.6"/>
<path d="M512.4,656.7 L502.3,632.6" fill="none" stroke="#000" stroke-width="1.6"/>
<path d="M502.3,632.6 L485.1,597.3" fill="none" stroke="#000" stroke-width="1.6" stroke-dasharray="5 3"/>
<path d="M458.2,639.8 L468.2,611.7" fill="none" stroke="#000" stroke-width="1.6"/>
<path d="M498.3,564.4 Q506,578 518,584 T538,590" fill="none" stroke="#000" stroke-width="1.6" stroke-dasharray="5 3"/>
<path d="M133.7,513.4 L127.0,534.4" fill="none" stroke="#000" stroke-width="1.6"/>
<path d="M133.0,545.1 L160.4,561.8" fill="none" stroke="#000" stroke-width="1.6"/>
<path d="M163.8,563.5 L168.8,566.2" fill="none" stroke="#000" stroke-width="1.6"/>
<path d="M172.0,568.0 L342.0,665.2" fill="none" stroke="#000" stroke-width="1.6"/>
<path d="M131.0,595.3 L108.6,607.6" fill="none" stroke="#000" stroke-width="1.6"/>
<path d="M98.6,627.0 L98.6,680.5" fill="none" stroke="#000" stroke-width="1.6"/>
<path d="M98.6,683.5 L98.6,693.9" fill="none" stroke="#000" stroke-width="1.6"/>
<path d="M359.8,640.1 L351.1,662.8" fill="none" stroke="#000" stroke-width="1.6"/>
<path d="M354.4,673.5 L363.1,677.9 L276.9,727.0" fill="none" stroke="#000" stroke-width="1.6"/>
<path d="M276.9,727.0 L233.4,752.1" fill="none" stroke="#000" stroke-width="1.6" stroke-dasharray="9 3 3 3"/>
<path d="M233.4,752.1 L261.8,768.8" fill="none" stroke="#000" stroke-width="1.6" stroke-dasharray="5 3"/>
<path d="M268.5,772.1 L291.0,784.6" fill="none" stroke="#000" stroke-width="1.6"/>
<path d="M306.2,794.3 L384.9,840.8" fill="none" stroke="#000" stroke-width="1.6"/>
<path d="M294.8,796.8 L287.9,821.0" fill="none" stroke="#000" stroke-width="1.6"/>
<path d="M262.5,839.2 L254.1,861.6" fill="none" stroke="#000" stroke-width="1.6"/>
<path d="M201.5,840.4 L245.6,862.5" fill="none" stroke="#000" stroke-width="1.6"/>
<path d="M257.9,870.0 L298.6,893.4" fill="none" stroke="#000" stroke-width="1.6"/>
<path d="M300.7,924.2 L306.4,906.6" fill="none" stroke="#000" stroke-width="1.6"/>
<path d="M399.7,855.3 L393.8,879.4" fill="none" stroke="#000" stroke-width="1.6"/>
<path d="M119.9,829.4 L130.9,805.1" fill="none" stroke="#000" stroke-width="1.6"/>
<path d="M141.9,803.8 L148.0,807.3" fill="none" stroke="#000" stroke-width="1.6"/>
<path d="M153.8,810.5 L168.4,819.3" fill="none" stroke="#000" stroke-width="1.6"/>
<path d="M153.8,810.2 L153.8,800.5" fill="none" stroke="#000" stroke-width="1.6"/>
<path d="M153.8,797.0 L153.8,793.5" fill="none" stroke="#000" stroke-width="1.6"/>
<path d="M153.8,790.0 L153.8,773.2 L174.0,784.9" fill="none" stroke="#000" stroke-width="1.6"/>
<path d="M177.0,786.6 L185.0,791.2" fill="none" stroke="#000" stroke-width="1.6"/>
<path d="M188.0,793.0 L190.0,794.2" fill="none" stroke="#000" stroke-width="1.6"/>
<path d="M193.0,796.0 L199.0,799.5" fill="none" stroke="#000" stroke-width="1.6"/>
<path d="M201.5,801.0 L232.4,817.9 L232.4,834.3" fill="none" stroke="#000" stroke-width="1.6"/>
<path d="M232.4,838.0 L232.4,842.7" fill="none" stroke="#000" stroke-width="1.6"/>
<path d="M232.4,845.5 L232.4,855.8" fill="none" stroke="#000" stroke-width="1.6"/>
<text transform="translate(173.5,23.7) scale(1.19,1)" text-anchor="middle" font-size="13.5" stroke="#000" stroke-width="0.12">30</text>
<text transform="translate(86.5,161.7) scale(1.19,1)" text-anchor="middle" font-size="13.5" stroke="#000" stroke-width="0.12">18</text>
<text transform="translate(152.6,151.1) scale(1.19,1)" text-anchor="middle" font-size="13.5" stroke="#000" stroke-width="0.12">15</text>
<text transform="translate(236.9,228.6) scale(1.19,1)" text-anchor="middle" font-size="13.5" stroke="#000" stroke-width="0.12">16</text>
<text transform="translate(145.0,278.4) scale(1.19,1)" text-anchor="middle" font-size="13.5" stroke="#000" stroke-width="0.12">10</text>
<text transform="translate(154.4,297.9) scale(1.19,1)" text-anchor="middle" font-size="13.5" stroke="#000" stroke-width="0.12">11</text>
<text transform="translate(172.7,334.6) scale(1.19,1)" text-anchor="middle" font-size="13.5" stroke="#000" stroke-width="0.12">12</text>
<text transform="translate(131.0,369.6) scale(1.19,1)" text-anchor="middle" font-size="13.5" stroke="#000" stroke-width="0.12">13</text>
<text transform="translate(50.0,441.8) scale(1.19,1)" text-anchor="middle" font-size="13.5" stroke="#000" stroke-width="0.12">20</text>
<text transform="translate(57.0,265.8) scale(1.19,1)" text-anchor="middle" font-size="13.5" stroke="#000" stroke-width="0.12">19</text>
<text transform="translate(223.7,305.1) scale(1.19,1)" text-anchor="middle" font-size="13.5" stroke="#000" stroke-width="0.12">14</text>
<text transform="translate(273.3,251.7) scale(1.19,1)" text-anchor="middle" font-size="13.5" stroke="#000" stroke-width="0.12">12</text>
<text transform="translate(293.3,213.5) scale(1.19,1)" text-anchor="middle" font-size="13.5" stroke="#000" stroke-width="0.12">17</text>
<text transform="translate(328.8,205.1) scale(1.19,1)" text-anchor="middle" font-size="13.5" stroke="#000" stroke-width="0.12">17</text>
<text transform="translate(345.7,177.1) scale(1.19,1)" text-anchor="middle" font-size="13.5" stroke="#000" stroke-width="0.12">12</text>
<text transform="translate(426.1,351.8) scale(1.19,1)" text-anchor="middle" font-size="13.5" stroke="#000" stroke-width="0.12">8</text>
<text transform="translate(396.8,414.3) scale(1.19,1)" text-anchor="middle" font-size="13.5" stroke="#000" stroke-width="0.12">9</text>
<text transform="translate(428.8,436.0) scale(1.19,1)" text-anchor="middle" font-size="13.5" stroke="#000" stroke-width="0.12">25</text>
<text transform="translate(361.0,500.6) scale(1.19,1)" text-anchor="middle" font-size="13.5" stroke="#000" stroke-width="0.12">25</text>
<text transform="translate(460.0,64.8) scale(1.19,1)" text-anchor="middle" font-size="13.5" stroke="#000" stroke-width="0.12">33</text>
<text transform="translate(567.2,59.3) scale(1.19,1)" text-anchor="middle" font-size="13.5" stroke="#000" stroke-width="0.12">32</text>
<text transform="translate(659.8,64.1) scale(1.19,1)" text-anchor="middle" font-size="13.5" stroke="#000" stroke-width="0.12">31</text>
<text transform="translate(591.7,141.6) scale(1.19,1)" text-anchor="middle" font-size="13.5" stroke="#000" stroke-width="0.12">29</text>
<text transform="translate(618.2,185.7) scale(1.19,1)" text-anchor="middle" font-size="13.5" stroke="#000" stroke-width="0.12">27</text>
<text transform="translate(666.0,222.6) scale(1.19,1)" text-anchor="middle" font-size="13.5" stroke="#000" stroke-width="0.12">28</text>
<text transform="translate(481.6,225.8) scale(1.19,1)" text-anchor="middle" font-size="13.5" stroke="#000" stroke-width="0.12">23</text>
<text transform="translate(562.3,235.3) scale(1.19,1)" text-anchor="middle" font-size="13.5" stroke="#000" stroke-width="0.12">23</text>
<text transform="translate(726.5,468.4) scale(1.19,1)" text-anchor="middle" font-size="13.5" stroke="#000" stroke-width="0.12">22</text>
<text transform="translate(644.7,605.6) scale(1.19,1)" text-anchor="middle" font-size="13.5" stroke="#000" stroke-width="0.12">24</text>
<text transform="translate(596.6,665.8) scale(1.19,1)" text-anchor="middle" font-size="13.5" stroke="#000" stroke-width="0.12">26</text>
<text transform="translate(531.4,705.9) scale(1.19,1)" text-anchor="middle" font-size="13.5" stroke="#000" stroke-width="0.12">26</text>
<text transform="translate(455.4,655.0) scale(1.19,1)" text-anchor="middle" font-size="13.5" stroke="#000" stroke-width="0.12">21</text>
<text transform="translate(133.7,510.4) scale(1.19,1)" text-anchor="middle" font-size="13.5" stroke="#000" stroke-width="0.12">7</text>
<text transform="translate(139.2,596.3) scale(1.19,1)" text-anchor="middle" font-size="13.5" stroke="#000" stroke-width="0.12">2</text>
<text transform="translate(360.4,636.5) scale(1.19,1)" text-anchor="middle" font-size="13.5" stroke="#000" stroke-width="0.12">3</text>
<text transform="translate(398.8,739.5) scale(1.19,1)" text-anchor="middle" font-size="13.5" stroke="#000" stroke-width="0.12">1</text>
<text transform="translate(285.9,830.7) scale(1.19,1)" text-anchor="middle" font-size="13.5" stroke="#000" stroke-width="0.12">4</text>
<text transform="translate(263.8,836.3) scale(1.19,1)" text-anchor="middle" font-size="13.5" stroke="#000" stroke-width="0.12">3</text>
<text transform="translate(117.2,840.9) scale(1.19,1)" text-anchor="middle" font-size="13.5" stroke="#000" stroke-width="0.12">4</text>
<text transform="translate(299.6,936.6) scale(1.19,1)" text-anchor="middle" font-size="13.5" stroke="#000" stroke-width="0.12">5</text>
<text transform="translate(392.9,891.1) scale(1.19,1)" text-anchor="middle" font-size="13.5" stroke="#000" stroke-width="0.12">6</text>
<text x="30" y="984.3" font-size="15">BN6A300DT210</text>
</svg>
</body></html>
